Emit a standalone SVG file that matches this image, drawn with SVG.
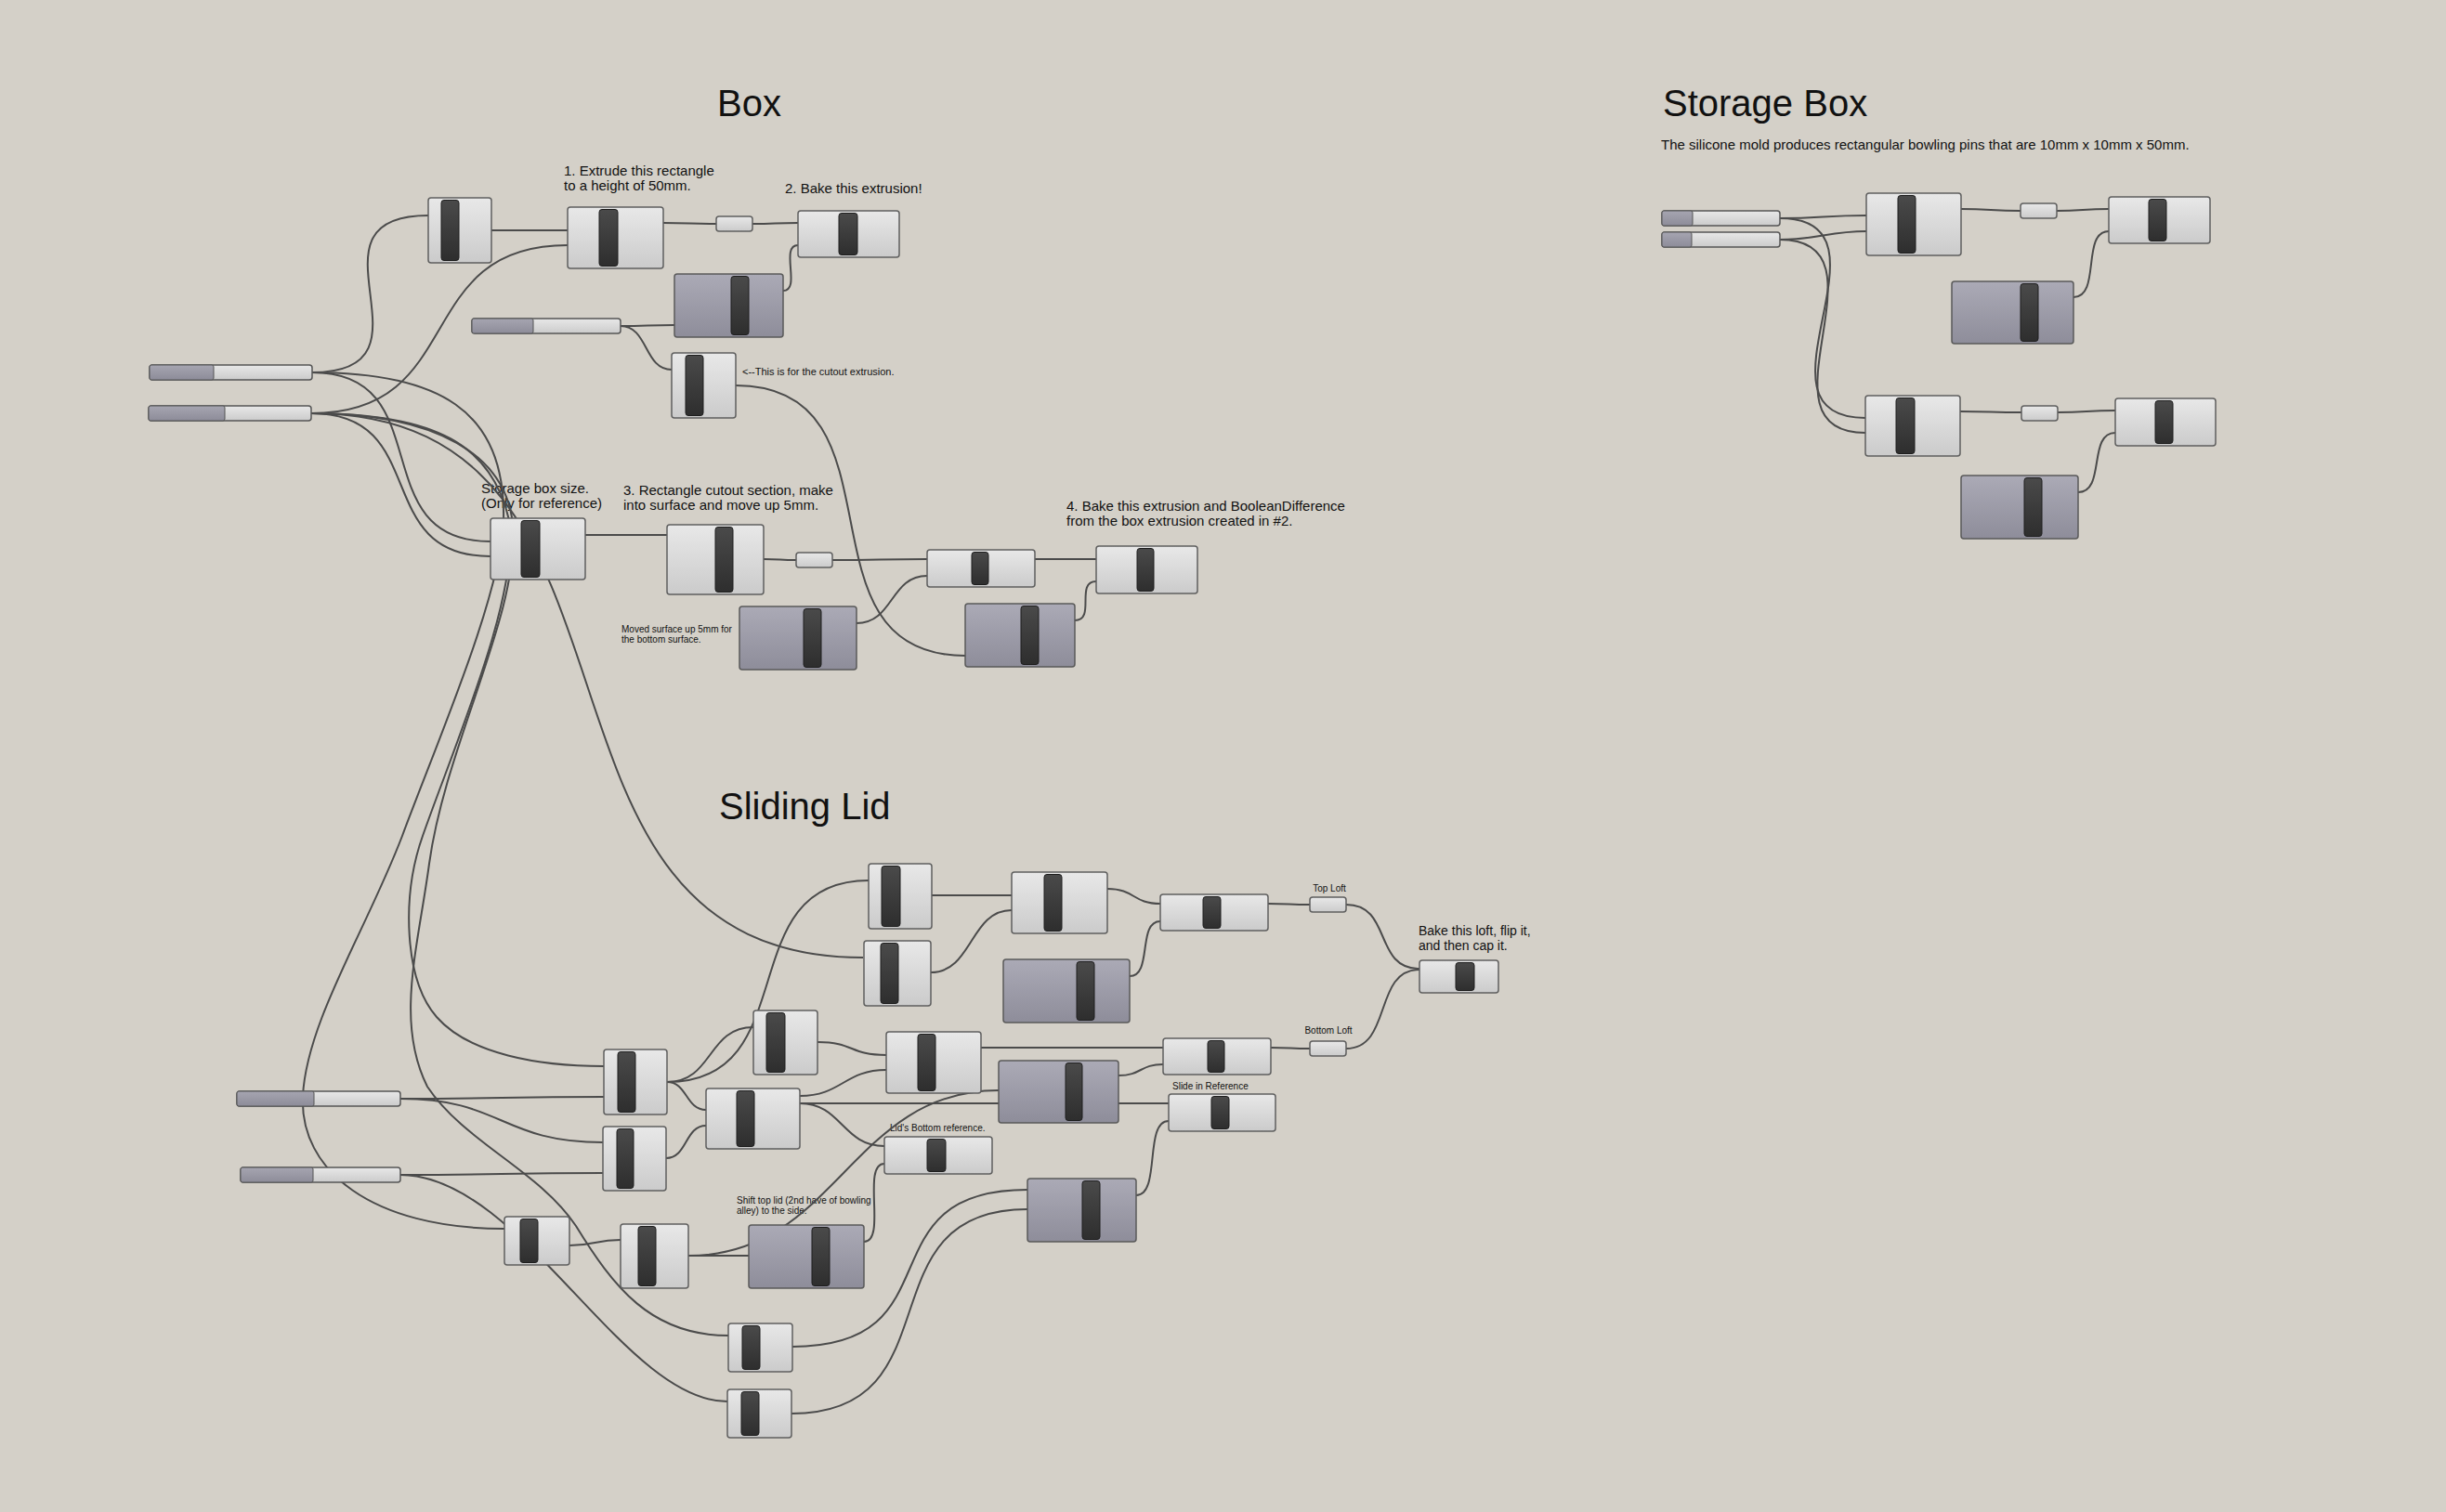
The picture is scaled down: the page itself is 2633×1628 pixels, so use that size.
<svg xmlns="http://www.w3.org/2000/svg" width="2633" height="1628" viewBox="0 0 2633 1628">
<defs>
<linearGradient id="gL" x1="0" y1="0" x2="0" y2="1"><stop offset="0" stop-color="#e8e8e8"/><stop offset="1" stop-color="#cbcbcb"/></linearGradient>
<linearGradient id="gD" x1="0" y1="0" x2="0" y2="1"><stop offset="0" stop-color="#abaab6"/><stop offset="1" stop-color="#8e8d9a"/></linearGradient>
<linearGradient id="gB" x1="0" y1="0" x2="0" y2="1"><stop offset="0" stop-color="#4a4a4a"/><stop offset="1" stop-color="#2e2e2e"/></linearGradient>
<linearGradient id="gS" x1="0" y1="0" x2="0" y2="1"><stop offset="0" stop-color="#a6a5b1"/><stop offset="1" stop-color="#8d8c99"/></linearGradient>
<style>
.n{fill:url(#gL);stroke:#5f5f5f;stroke-width:1.5}
.d{fill:url(#gD);stroke:#5a5a5a;stroke-width:1.5}
.b{fill:url(#gB);stroke:#1e1e1e;stroke-width:1}
.sl{fill:url(#gL);stroke:#555;stroke-width:1.5}
.sp{fill:url(#gS);stroke:#555;stroke-width:1}
.w{fill:none;stroke:#4b4b4b;stroke-width:2}
text{font-family:"Liberation Sans",Arial,sans-serif;fill:#111}
.h{font-size:40px}
.c{font-size:15px}
.c14{font-size:14px}
.s{font-size:10px}
.s11{font-size:11px}
</style>
</defs>
<rect width="2633" height="1628" fill="#d4d0c8"/>

<g id="titles">
<text class="h" x="772" y="125">Box</text>
<text class="h" x="1790" y="125">Storage Box</text>
<text class="h" x="774" y="882">Sliding Lid</text>
<text class="c" x="1788" y="161">The silicone mold produces rectangular bowling pins that are 10mm x 10mm x 50mm.</text>
<text class="c" x="607" y="189">1. Extrude this rectangle</text>
<text class="c" x="607" y="205">to a height of 50mm.</text>
<text class="c" x="845" y="208">2. Bake this extrusion!</text>
<text class="s11" x="799" y="404">&lt;--This is for the cutout extrusion.</text>
<text class="c" x="518" y="531">Storage box size.</text>
<text class="c" x="518" y="547">(Only for reference)</text>
<text class="c" x="671" y="533">3. Rectangle cutout section, make</text>
<text class="c" x="671" y="549">into surface and move up 5mm.</text>
<text class="c" x="1148" y="550">4. Bake this extrusion and BooleanDifference</text>
<text class="c" x="1148" y="566">from the box extrusion created in #2.</text>
<text class="s" x="669" y="681">Moved surface up 5mm for</text>
<text class="s" x="669" y="692">the bottom surface.</text>
<text class="s" x="1431" y="960" text-anchor="middle">Top Loft</text>
<text class="s" x="1430" y="1113" text-anchor="middle">Bottom Loft</text>
<text class="c14" x="1527" y="1007">Bake this loft, flip it,</text>
<text class="c14" x="1527" y="1023">and then cap it.</text>
<text class="s" x="1262" y="1173">Slide in Reference</text>
<text class="s" x="958" y="1218">Lid's Bottom reference.</text>
<text class="s" x="793" y="1296">Shift top lid (2nd have of bowling</text>
<text class="s" x="793" y="1307">alley) to the side.</text>
</g>

<g id="connectors">
<path class="w" d="M336 401 C482 401 315 232 461 232"/>
<path class="w" d="M529 248 L611 248"/>
<path class="w" d="M335 445 C505 445 441 264 611 264"/>
<path class="w" d="M714 240 C740 240 745 241 771 241"/>
<path class="w" d="M810 241 C835 241 834 240 859 240"/>
<path class="w" d="M843 313 C863 313 839 264 859 264"/>
<path class="w" d="M668 351 C697 351 697 350 726 350"/>
<path class="w" d="M668 351 C698 351 693 398 723 398"/>
<path class="w" d="M792 415 C982 415 849 706 1039 706"/>
<path class="w" d="M336 401 C475 401 389 583 528 583"/>
<path class="w" d="M335 445 C465 445 398 599 528 599"/>
<path class="w" d="M630 576 L718 576"/>
<path class="w" d="M822 602 C840 602 839 603 857 603"/>
<path class="w" d="M896 603 C947 603 947 602 998 602"/>
<path class="w" d="M922 671 C962 671 958 620 998 620"/>
<path class="w" d="M1114 602 L1180 602"/>
<path class="w" d="M1157 668 C1180 668 1157 626 1180 626"/>
<path class="w" d="M336 401 C470 401 545 440 542 560 C540 640 470 800 433 900 C395 1000 330 1100 326 1180 C322 1260 400 1323 543 1323"/>
<path class="w" d="M335 445 C470 445 530 480 548 560 C560 640 490 800 455 900 C432 965 435 1055 470 1095 C505 1135 580 1148 650 1148"/>
<path class="w" d="M335 445 C470 445 545 490 552 565 C560 660 480 800 462 930 C450 1020 425 1100 460 1170 C500 1230 580 1260 620 1320 C660 1385 700 1438 784 1438"/>
<path class="w" d="M335 445 C735 445 529 1031 929 1031"/>
<path class="w" d="M431 1183 C540 1183 540 1181 650 1181"/>
<path class="w" d="M431 1183 C541 1183 539 1230 649 1230"/>
<path class="w" d="M431 1265 C540 1265 539 1263 649 1263"/>
<path class="w" d="M431 1265 C561 1265 670 1509 783 1509"/>
<path class="w" d="M613 1341 C640 1341 641 1335 668 1335"/>
<path class="w" d="M741 1352 L806 1352"/>
<path class="w" d="M741 1352 C901 1352 915 1174 1075 1174"/>
<path class="w" d="M861 1188 L1075 1188"/>
<path class="w" d="M861 1180 C906 1180 909 1152 954 1152"/>
<path class="w" d="M861 1188 C906 1188 907 1234 952 1234"/>
<path class="w" d="M880 1122 C920 1122 914 1136 954 1136"/>
<path class="w" d="M718 1165 C768 1165 761 1106 811 1106"/>
<path class="w" d="M718 1165 C868 1165 785 948 935 948"/>
<path class="w" d="M718 1165 C740 1165 738 1195 760 1195"/>
<path class="w" d="M717 1247 C740 1247 737 1212 760 1212"/>
<path class="w" d="M1003 964 L1089 964"/>
<path class="w" d="M1002 1047 C1047 1047 1044 980 1089 980"/>
<path class="w" d="M1192 957 C1222 957 1219 973 1249 973"/>
<path class="w" d="M1216 1051 C1241 1051 1224 992 1249 992"/>
<path class="w" d="M1365 973 C1388 973 1387 974 1410 974"/>
<path class="w" d="M1449 974 C1499 974 1478 1043 1528 1043"/>
<path class="w" d="M1449 1129 C1499 1129 1478 1044 1528 1044"/>
<path class="w" d="M1368 1128 C1389 1128 1389 1129 1410 1129"/>
<path class="w" d="M1056 1128 L1252 1128"/>
<path class="w" d="M1204 1158 C1229 1158 1227 1146 1252 1146"/>
<path class="w" d="M1204 1188 L1258 1188"/>
<path class="w" d="M1223 1287 C1250 1287 1231 1207 1258 1207"/>
<path class="w" d="M853 1450 C1033 1450 926 1281 1106 1281"/>
<path class="w" d="M852 1522 C1032 1522 926 1302 1106 1302"/>
<path class="w" d="M930 1337 C955 1337 927 1253 952 1253"/>
<path class="w" d="M1916 235 C1960 235 1965 232 2009 232"/>
<path class="w" d="M1916 258 C1956 258 1969 249 2009 249"/>
<path class="w" d="M1916 235 C2051 235 1873 450 2008 450"/>
<path class="w" d="M1916 258 C2041 258 1883 466 2008 466"/>
<path class="w" d="M2111 225 C2143 225 2143 227 2175 227"/>
<path class="w" d="M2214 227 C2242 227 2242 225 2270 225"/>
<path class="w" d="M2232 320 C2262 320 2240 249 2270 249"/>
<path class="w" d="M2110 443 C2143 443 2143 444 2176 444"/>
<path class="w" d="M2215 444 C2246 444 2246 442 2277 442"/>
<path class="w" d="M2237 530 C2267 530 2247 466 2277 466"/>
</g>

<g id="S1"><rect class="sl" x="161" y="393" width="175" height="16" rx="3"/><rect class="sp" x="161" y="393" width="69" height="16" rx="2"/></g>
<g id="S2"><rect class="sl" x="160" y="437" width="175" height="16" rx="3"/><rect class="sp" x="160" y="437" width="82" height="16" rx="2"/></g>
<g id="S3"><rect class="sl" x="508" y="343" width="160" height="16" rx="3"/><rect class="sp" x="508" y="343" width="66" height="16" rx="2"/></g>
<g id="S4"><rect class="sl" x="255" y="1175" width="176" height="16" rx="3"/><rect class="sp" x="255" y="1175" width="83" height="16" rx="2"/></g>
<g id="S5"><rect class="sl" x="259" y="1257" width="172" height="16" rx="3"/><rect class="sp" x="259" y="1257" width="78" height="16" rx="2"/></g>
<g id="SL1"><rect class="sl" x="1789" y="227" width="127" height="16" rx="3"/><rect class="sp" x="1789" y="227" width="33" height="16" rx="2"/></g>
<g id="SL2"><rect class="sl" x="1789" y="250" width="127" height="16" rx="3"/><rect class="sp" x="1789" y="250" width="32" height="16" rx="2"/></g>

<g id="A"><rect class="n" x="461" y="213" width="68" height="70" rx="3"/><rect class="b" x="475" y="215.5" width="19" height="65" rx="3"/></g>
<g id="B"><rect class="n" x="611" y="223" width="103" height="66" rx="3"/><rect class="b" x="645" y="225.5" width="20" height="61" rx="3"/></g>
<g id="R1"><rect class="n" x="771" y="233" width="39" height="16" rx="3"/></g>
<g id="C"><rect class="n" x="859" y="227" width="109" height="50" rx="3"/><rect class="b" x="903" y="229.5" width="20" height="45" rx="3"/></g>
<g id="D"><rect class="d" x="726" y="295" width="117" height="68" rx="3"/><rect class="b" x="787" y="297.5" width="19" height="63" rx="3"/></g>
<g id="E"><rect class="n" x="723" y="380" width="69" height="70" rx="3"/><rect class="b" x="738" y="382.5" width="19" height="65" rx="3"/></g>
<g id="F"><rect class="n" x="528" y="558" width="102" height="66" rx="3"/><rect class="b" x="561" y="560.5" width="20" height="61" rx="3"/></g>
<g id="G"><rect class="n" x="718" y="565" width="104" height="75" rx="3"/><rect class="b" x="770" y="567.5" width="19" height="70" rx="3"/></g>
<g id="R2"><rect class="n" x="857" y="595" width="39" height="16" rx="3"/></g>
<g id="H"><rect class="n" x="998" y="592" width="116" height="40" rx="3"/><rect class="b" x="1046" y="594.5" width="18" height="35" rx="3"/></g>
<g id="I"><rect class="n" x="1180" y="588" width="109" height="51" rx="3"/><rect class="b" x="1224" y="590.5" width="18" height="46" rx="3"/></g>
<g id="J"><rect class="d" x="796" y="653" width="126" height="68" rx="3"/><rect class="b" x="865" y="655.5" width="19" height="63" rx="3"/></g>
<g id="K"><rect class="d" x="1039" y="650" width="118" height="68" rx="3"/><rect class="b" x="1099" y="652.5" width="19" height="63" rx="3"/></g>

<g id="L1"><rect class="n" x="935" y="930" width="68" height="70" rx="3"/><rect class="b" x="949" y="932.5" width="20" height="65" rx="3"/></g>
<g id="L2"><rect class="n" x="930" y="1013" width="72" height="70" rx="3"/><rect class="b" x="948" y="1015.5" width="19" height="65" rx="3"/></g>
<g id="W"><rect class="n" x="1089" y="939" width="103" height="66" rx="3"/><rect class="b" x="1124" y="941.5" width="19" height="61" rx="3"/></g>
<g id="X"><rect class="n" x="1249" y="963" width="116" height="39" rx="3"/><rect class="b" x="1295" y="965.5" width="19" height="34" rx="3"/></g>
<g id="Y"><rect class="d" x="1080" y="1033" width="136" height="68" rx="3"/><rect class="b" x="1159" y="1035.5" width="19" height="63" rx="3"/></g>
<g id="TopLoft"><rect class="n" x="1410" y="966" width="39" height="16" rx="3"/></g>
<g id="BottomLoft"><rect class="n" x="1410" y="1121" width="39" height="16" rx="3"/></g>
<g id="Z"><rect class="n" x="1528" y="1034" width="85" height="35" rx="3"/><rect class="b" x="1567" y="1036.5" width="20" height="30" rx="3"/></g>
<g id="M"><rect class="n" x="811" y="1088" width="69" height="69" rx="3"/><rect class="b" x="825" y="1090.5" width="20" height="64" rx="3"/></g>
<g id="N"><rect class="n" x="650" y="1130" width="68" height="70" rx="3"/><rect class="b" x="665" y="1132.5" width="19" height="65" rx="3"/></g>
<g id="O"><rect class="n" x="760" y="1172" width="101" height="65" rx="3"/><rect class="b" x="793" y="1174.5" width="19" height="60" rx="3"/></g>
<g id="P"><rect class="n" x="954" y="1111" width="102" height="66" rx="3"/><rect class="b" x="988" y="1113.5" width="19" height="61" rx="3"/></g>
<g id="AA"><rect class="n" x="1252" y="1118" width="116" height="39" rx="3"/><rect class="b" x="1300" y="1120.5" width="18" height="34" rx="3"/></g>
<g id="AB"><rect class="d" x="1075" y="1142" width="129" height="67" rx="3"/><rect class="b" x="1147" y="1144.5" width="18" height="62" rx="3"/></g>
<g id="AC"><rect class="n" x="1258" y="1178" width="115" height="40" rx="3"/><rect class="b" x="1304" y="1180.5" width="19" height="35" rx="3"/></g>
<g id="AD"><rect class="n" x="952" y="1224" width="116" height="40" rx="3"/><rect class="b" x="998" y="1226.5" width="20" height="35" rx="3"/></g>
<g id="AE"><rect class="d" x="1106" y="1269" width="117" height="68" rx="3"/><rect class="b" x="1165" y="1271.5" width="19" height="63" rx="3"/></g>
<g id="Q"><rect class="n" x="649" y="1213" width="68" height="69" rx="3"/><rect class="b" x="664" y="1215.5" width="18" height="64" rx="3"/></g>
<g id="R"><rect class="n" x="543" y="1310" width="70" height="52" rx="3"/><rect class="b" x="560" y="1312.5" width="19" height="47" rx="3"/></g>
<g id="S"><rect class="n" x="668" y="1318" width="73" height="69" rx="3"/><rect class="b" x="687" y="1320.5" width="19" height="64" rx="3"/></g>
<g id="T"><rect class="d" x="806" y="1319" width="124" height="68" rx="3"/><rect class="b" x="874" y="1321.5" width="19" height="63" rx="3"/></g>
<g id="U"><rect class="n" x="784" y="1425" width="69" height="52" rx="3"/><rect class="b" x="799" y="1427.5" width="19" height="47" rx="3"/></g>
<g id="V"><rect class="n" x="783" y="1496" width="69" height="52" rx="3"/><rect class="b" x="798" y="1498.5" width="19" height="47" rx="3"/></g>

<g id="SB1"><rect class="n" x="2009" y="208" width="102" height="67" rx="3"/><rect class="b" x="2043" y="210.5" width="19" height="62" rx="3"/></g>
<g id="SBR1"><rect class="n" x="2175" y="219" width="39" height="16" rx="3"/></g>
<g id="SB2"><rect class="n" x="2270" y="212" width="109" height="50" rx="3"/><rect class="b" x="2313" y="214.5" width="19" height="45" rx="3"/></g>
<g id="SB3"><rect class="d" x="2101" y="303" width="131" height="67" rx="3"/><rect class="b" x="2175" y="305.5" width="19" height="62" rx="3"/></g>
<g id="SB4"><rect class="n" x="2008" y="426" width="102" height="65" rx="3"/><rect class="b" x="2041" y="428.5" width="20" height="60" rx="3"/></g>
<g id="SBR2"><rect class="n" x="2176" y="437" width="39" height="16" rx="3"/></g>
<g id="SB5"><rect class="n" x="2277" y="429" width="108" height="51" rx="3"/><rect class="b" x="2320" y="431.5" width="19" height="46" rx="3"/></g>
<g id="SB6"><rect class="d" x="2111" y="512" width="126" height="68" rx="3"/><rect class="b" x="2179" y="514.5" width="19" height="63" rx="3"/></g>
</svg>
